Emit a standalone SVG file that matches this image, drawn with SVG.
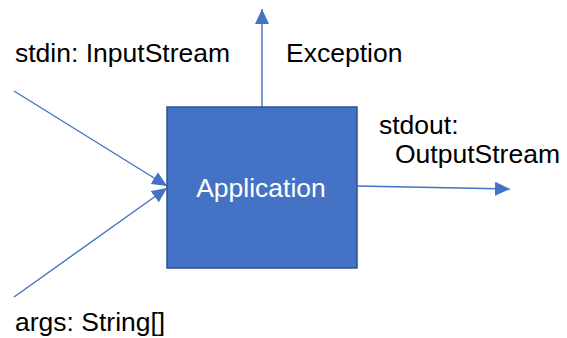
<svg xmlns="http://www.w3.org/2000/svg" width="567" height="338" viewBox="0 0 567 338">
<style>
.lbl{font-family:"Liberation Sans",Arial,sans-serif;font-size:26.5px;fill:#000}
.conn{stroke:#4472C4;stroke-width:1.4;fill:none}
</style>
<defs>
<marker id="ah" markerUnits="userSpaceOnUse" markerWidth="16" markerHeight="14" refX="15" refY="7" orient="auto">
<path d="M0,0 L15,7 L0,14 Z" fill="#4472C4"/>
</marker>
</defs>
<rect width="567" height="338" fill="#fff"/>
<g id="connectors">
<line class="conn" x1="14" y1="91" x2="167" y2="186" marker-end="url(#ah)"/>
<line class="conn" x1="14" y1="297" x2="167" y2="188" marker-end="url(#ah)"/>
<line class="conn" x1="262" y1="107" x2="262" y2="9" marker-end="url(#ah)"/>
<line class="conn" x1="357" y1="186" x2="510" y2="189" marker-end="url(#ah)"/>
</g>
<g id="application">
<rect x="167" y="107" width="190" height="161" fill="#4472C4" stroke="#2F528F" stroke-width="1.5"/>
<text x="261" y="197" text-anchor="middle" class="lbl" style="fill:#fff">Application</text>
</g>
<g id="labels">
<text x="15" y="62" class="lbl">stdin: InputStream</text>
<text x="286" y="62" class="lbl">Exception</text>
<text x="379" y="134" class="lbl">stdout:</text>
<text x="395" y="163" class="lbl">OutputStream</text>
<text x="15" y="331" class="lbl">args: String[]</text>
</g>
</svg>
